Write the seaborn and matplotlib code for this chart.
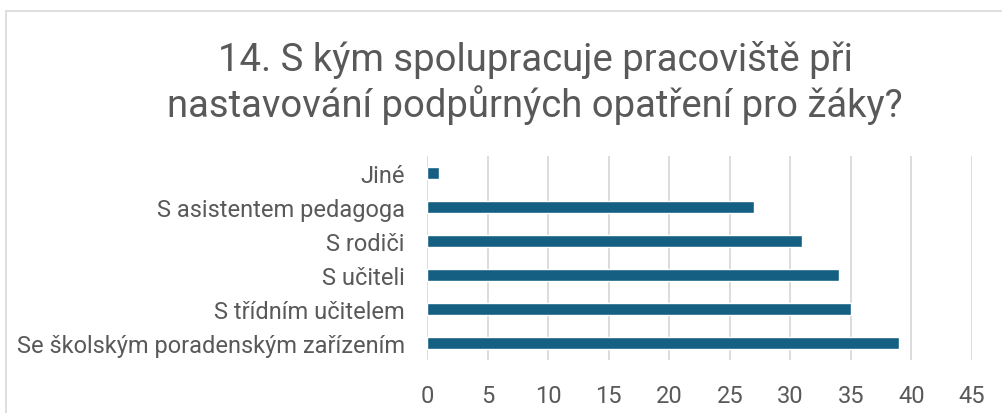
import matplotlib
matplotlib.use('Agg')
import matplotlib.pyplot as plt
import pandas as pd
import seaborn as sns
from matplotlib.lines import Line2D

# Data
kategorie = ['Jiné', 'S asistentem pedagoga', 'S rodiči', 'S učiteli',
             'S třídním učitelem', 'Se školským poradenským zařízením']
pocty = [1, 27, 31, 34, 35, 39]
osa_x = [0, 5, 10, 15, 20, 25, 30, 35, 40, 45]

datos = pd.DataFrame({'Kategorie': kategorie, 'Pocet': pocty})

sns.set_style('white')
plt.rcParams['font.family'] = ['Roboto', 'DejaVu Sans']

fig = plt.figure(figsize=(10.03, 4.14), dpi=100)
ax = fig.add_axes([427 / 1003, 1 - 361 / 414, (972 - 427) / 1003, (361 - 157) / 414])

sns.barplot(data=datos, x='Pocet', y='Kategorie', color='#156082',
            width=0.36, saturation=1, ax=ax, zorder=3)

ax.set_xlim(0, 45)
ax.set_ylim(5.5, -0.5)
ax.set_xticks(osa_x)
ax.grid(axis='x', color='#d9d9d9', linewidth=1.3, zorder=0)
ax.set_xlabel('')
ax.set_ylabel('')
for s in ax.spines.values():
    s.set_visible(False)
ax.tick_params(axis='x', length=0, pad=17, labelsize=17, labelcolor='#595959')
ax.tick_params(axis='y', length=0, pad=16, labelsize=17, labelcolor='#595959')

fig.text(535 / 1003, 1 - 83 / 414, '14. S kým spolupracuje pracoviště při\nnastavování podpůrných opatření pro žáky?',
         ha='center', va='center', fontsize=27.5, color='#595959', linespacing=1.2)

# chart frame
fig.add_artist(Line2D([6 / 1003, 1], [1 - 12 / 414, 1 - 12 / 414], color='#d9d9d9', lw=1.2))
fig.add_artist(Line2D([6 / 1003, 6 / 1003], [0, 1 - 12 / 414], color='#d9d9d9', lw=1.2))

fig.savefig('out.png', dpi=100)
